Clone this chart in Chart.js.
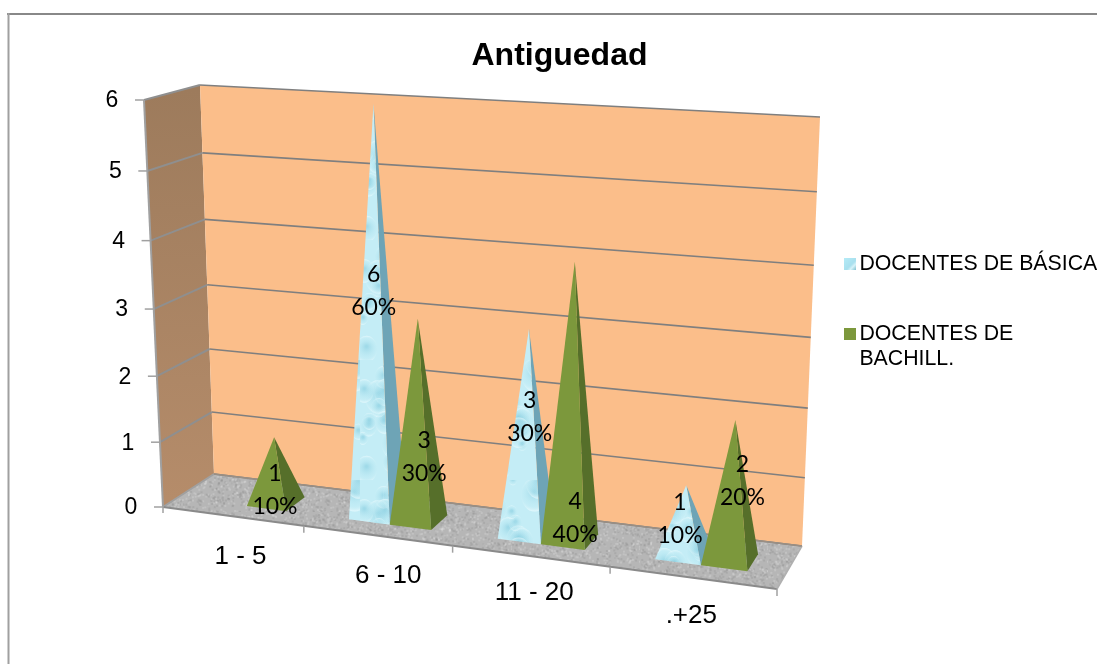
<!DOCTYPE html>
<html><head><meta charset="utf-8">
<style>html,body{margin:0;padding:0;background:#fff}canvas{display:block}</style>
<script src="https://cdn.jsdelivr.net/npm/chart.js@4"></script>
</head><body><div style="width:1097px;height:664px"><canvas id="c" width="1097" height="664"></canvas></div>
<script>
const categories = ['1 - 5', '6 - 10', '11 - 20', '.+25'];
const seriesBasica = [0, 6, 3, 1];
const seriesBachill = [1, 3, 4, 2];
const pctBasica = ['', '60%', '30%', '10%'];
const pctBachill = ['10%', '30%', '40%', '20%'];
const yTicks = [0, 1, 2, 3, 4, 5, 6];
const legendBasica = 'DOCENTES DE BÁSICA';
const legendBachill = ['DOCENTES DE', 'BACHILL.'];

// box corners of the 3D scene: f/b = front/back, l/r = left/right, 0/1 = floor/top
const box = {
  fl0:[163,507], fr0:[777,589], bl0:[214,474], br0:[802,546],
  fl1:[144,100], fr1:[803,140], bl1:[200,85], br1:[820,117]
};
const warp = (t, r) => t / (t + (1 - t) * r);
function project(u, v, d) {
  const U = warp(u, 1.12), V = warp(v, 1.056);
  const m = (a, b, t) => [a[0] + (b[0]-a[0])*t, a[1] + (b[1]-a[1])*t];
  const f0 = m(box.fl0, box.fr0, U), b0 = m(box.bl0, box.br0, U);
  const f1 = m(box.fl1, box.fr1, U), b1 = m(box.bl1, box.br1, U);
  return m(m(f0, b0, d), m(f1, b1, d), V);
}
function poly(ctx, pts, fill, stroke, lw) {
  ctx.beginPath();
  pts.forEach((p, i) => i ? ctx.lineTo(p[0], p[1]) : ctx.moveTo(p[0], p[1]));
  ctx.closePath();
  if (fill) { ctx.fillStyle = fill; ctx.fill(); }
  if (stroke) { ctx.strokeStyle = stroke; ctx.lineWidth = lw || 1; ctx.stroke(); }
}
function line(ctx, a, b, col, lw) {
  ctx.beginPath(); ctx.moveTo(a[0], a[1]); ctx.lineTo(b[0], b[1]);
  ctx.strokeStyle = col; ctx.lineWidth = lw; ctx.stroke();
}
// textures
function lcg(seed) { let s = seed; return () => (s = (s * 1103515245 + 12345) & 0x7fffffff) / 0x7fffffff; }
function mkTex(w, h, paint) { const c = document.createElement('canvas'); c.width = w; c.height = h; paint(c.getContext('2d'), w, h); return c; }
const floorTex = mkTex(128, 128, (g, w, h) => {
  g.fillStyle = '#b6b6b6'; g.fillRect(0, 0, w, h);
  const r = lcg(7);
  for (let i = 0; i < 2000; i++) { const k = r() > .5; g.fillStyle = k ? 'rgba(225,225,225,.28)' : 'rgba(140,140,140,.28)'; g.fillRect(r()*w, r()*h, 2, 2); }
});
function waterPaint(g, w, h, base) {
  g.fillStyle = base; g.fillRect(0, 0, w, h);
  const r = lcg(21);
  for (let i = 0; i < 34; i++) {
    const x = r()*w, y = r()*h, R = 5 + r()*12;
    const gr = g.createRadialGradient(x, y - R*.2, 1, x, y, R);
    gr.addColorStop(0, 'rgba(125,200,220,.5)'); gr.addColorStop(.7, 'rgba(185,232,242,.2)'); gr.addColorStop(1, 'rgba(240,253,255,.7)');
    g.fillStyle = gr; g.beginPath(); g.ellipse(x, y, R*.8, R, 0, 0, 6.3); g.fill();
  }
}
const waterTex = mkTex(90, 120, (g, w, h) => waterPaint(g, w, h, '#c4edf6'));
// swatches carry transparent space on the left so the 12px square sits where the reference has it
const waterSwatch = mkTex(18, 12, (g, w, h) => {
  const gr = g.createLinearGradient(6, 0, w, h);
  gr.addColorStop(0, '#b6ecf8'); gr.addColorStop(.6, '#a8e0ee'); gr.addColorStop(.75, '#d8f4fa'); gr.addColorStop(1, '#7fc0d0');
  g.fillStyle = gr; g.fillRect(6, 0, 12, h);
});
const greenSwatch = mkTex(18, 12, (g, w, h) => { g.fillStyle = '#7c983c'; g.fillRect(6, 0, 12, h); });

const legendPad = 49;
const xLabelNudge = [[8,41],[11,40],[4,37],[-1,38]];
const dataLabelNudge = [[[0,0],[-2,-24],[2,-16],[-5,-1]], [[0,20],[6,36],[3,114],[10,-10]]];

const scene = {
  id: 'scene',
  afterLayout(chart) {
    chart.legend.left = 845.25 - legendPad; chart.legend.top = 265 - legendPad - 12;
    chart.titleBlock.left += 11; chart.titleBlock.right += 11;
  },
  beforeDraw(chart) {
    const ctx = chart.ctx;
    ctx.save();
    ctx.fillStyle = '#fff'; ctx.fillRect(0, 0, chart.width, chart.height);
    line(ctx, [7, 14], [1097, 14], '#888888', 2);
    line(ctx, [8.5, 13], [8.5, 664], '#a0a0a0', 2);
    ctx.restore();
  },
  // bars are laid out by the library on a flat plot; the plugin projects that plot into the box
  beforeDatasetsDraw(chart) {
    const ctx = chart.ctx, a = chart.chartArea, ys = chart.scales.y, xs = chart.scales.x;
    const vOf = val => (a.bottom - ys.getPixelForValue(val)) / a.height;
    const uOf = px => (px - a.left) / a.width;
    ctx.save();
    // left wall
    const lw = ctx.createLinearGradient(0, 90, 0, 500);
    lw.addColorStop(0, '#9d7b5c'); lw.addColorStop(1, '#b58c6a');
    poly(ctx, [project(0,1,0), project(0,1,1), project(0,0,1), project(0,0,0)], lw);
    // back wall
    poly(ctx, [project(0,1,1), project(1,1,1), project(1,0,1), project(0,0,1)], '#fbbe8a');
    // floor
    poly(ctx, [project(0,0,0), project(0,0,1), project(1,0,1), project(1,0,0)], ctx.createPattern(floorTex, 'repeat'));
    // gridlines
    ys.ticks.forEach(t => {
      const v = vOf(t.value);
      line(ctx, project(0,v,1), project(1,v,1), '#7f7f7f', 1.6);
      line(ctx, project(0,v,0), project(0,v,1), v === 0 ? '#a0a0a0' : '#8f8f8f', 2);
    });
    // box edges
    line(ctx, project(0,0,0), project(1,0,0), '#8a8a8a', 2);
    line(ctx, project(1,0,0), project(1,0,1), '#b0b0b0', 1.5);
    line(ctx, project(0,0,0), project(0,1,0), '#a0a0a0', 2);
    line(ctx, project(0,0,1), project(1,0,1), '#9a8f84', 1.5);
    // value axis ticks + labels
    ctx.textBaseline = 'middle'; ctx.textAlign = 'center';
    ctx.font = '23px "Liberation Sans"';
    ys.ticks.forEach(t => {
      const p = project(0, vOf(t.value), 0);
      line(ctx, p, [p[0]-9, p[1]], '#a0a0a0', 1.5);
      ctx.fillStyle = '#000';
      ctx.fillText(t.label, p[0]-32, p[1]+1);
    });
    // category axis ticks + labels
    const step = a.width / xs.ticks.length;
    line(ctx, project(0,0,0), [project(0,0,0)[0], project(0,0,0)[1]+6], '#a0a0a0', 1.5);
    ctx.font = '26px "Liberation Sans"';
    xs.ticks.forEach((t, i) => {
      const cx = xs.getPixelForTick(i);
      const e = project(uOf(cx + step/2), 0, 0);
      line(ctx, e, [e[0], e[1]+7], '#a0a0a0', 1.5);
      const c = project(uOf(cx), 0, 0);
      ctx.fillStyle = '#000';
      ctx.fillText(categories[i], c[0]+xLabelNudge[i][0], c[1]+xLabelNudge[i][1]);
    });
    // pyramids
    const tex = ctx.createPattern(waterTex, 'repeat');
    const dFront = 0.3, dBack = 0.7;
    const faces = [
      { meta: chart.getDatasetMeta(0), front: tex, side: '#6ea4b6' },
      { meta: chart.getDatasetMeta(1), front: '#7c983c', side: '#566f2a' }
    ];
    categories.forEach((_, i) => faces.forEach(f => {
      const bar = f.meta.data[i];
      const v = (bar.base - bar.y) / a.height;
      if (v <= 0) return;
      const uL = uOf(bar.x - bar.width/2), uR = uOf(bar.x + bar.width/2), uC = uOf(bar.x);
      const apex = project(uC, v, 0.5);
      const fl = project(uL, 0, dFront), fr = project(uR, 0, dFront), br = project(uR, 0, dBack);
      poly(ctx, [fr, br, apex], f.side);
      poly(ctx, [fl, fr, apex], f.front);
    }));
    ctx.restore();
  },
  afterDatasetsDraw(chart) {
    const ctx = chart.ctx, a = chart.chartArea;
    const uOf = px => (px - a.left) / a.width;
    ctx.save();
    ctx.font = '23px Lato'; ctx.fillStyle = '#000'; ctx.textAlign = 'center'; ctx.textBaseline = 'middle';
    [[seriesBasica, pctBasica], [seriesBachill, pctBachill]].forEach((s, k) => {
      const meta = chart.getDatasetMeta(k);
      s[0].forEach((val, i) => {
        if (!val) return;
        const bar = meta.data[i];
        const v = (bar.base - bar.y) / a.height;
        const p = project(uOf(bar.x), v/2, 0.5);
        const n = dataLabelNudge[k][i];
        ctx.fillText(String(val), p[0]+n[0], p[1]+n[1]-16);
        ctx.fillText(s[1][i], p[0]+n[0], p[1]+n[1]+17);
      });
    });
    ctx.restore();
  }
};

new Chart(document.getElementById('c'), {
  type: 'bar',
  data: {
    labels: categories,
    datasets: [
      { label: legendBasica, data: seriesBasica, backgroundColor: 'rgba(0,0,0,0)', categoryPercentage: 0.56, barPercentage: 1 },
      { label: legendBachill, data: seriesBachill, backgroundColor: 'rgba(0,0,0,0)', categoryPercentage: 0.56, barPercentage: 1 }
    ]
  },
  options: {
    responsive: false, animation: false,
    layout: { padding: 0 },
    scales: {
      x: { display: false },
      y: { display: false, min: 0, max: 6, ticks: { stepSize: 1 }, afterBuildTicks(s) { s.ticks = yTicks.map(v => ({ value: v, label: String(v) })); } }
    },
    plugins: {
      tooltip: { enabled: false },
      title: { display: true, text: 'Antiguedad', color: '#000', padding: { top: 37, bottom: 10 },
        font: { family: '"Liberation Sans"', size: 32, weight: 'bold' } },
      legend: {
        display: true, position: 'right', align: 'start',
        labels: {
          color: '#000', usePointStyle: true, pointStyleWidth: 3.5, padding: legendPad,
          font: { family: '"Liberation Sans"', size: 21.3 }, boxHeight: 12,
          generateLabels: () => [
            { text: legendBasica, pointStyle: waterSwatch, datasetIndex: 0 },
            { text: legendBachill, pointStyle: greenSwatch, datasetIndex: 1 }
          ]
        }
      }
    }
  },
  plugins: [scene]
});
</script></body></html>
